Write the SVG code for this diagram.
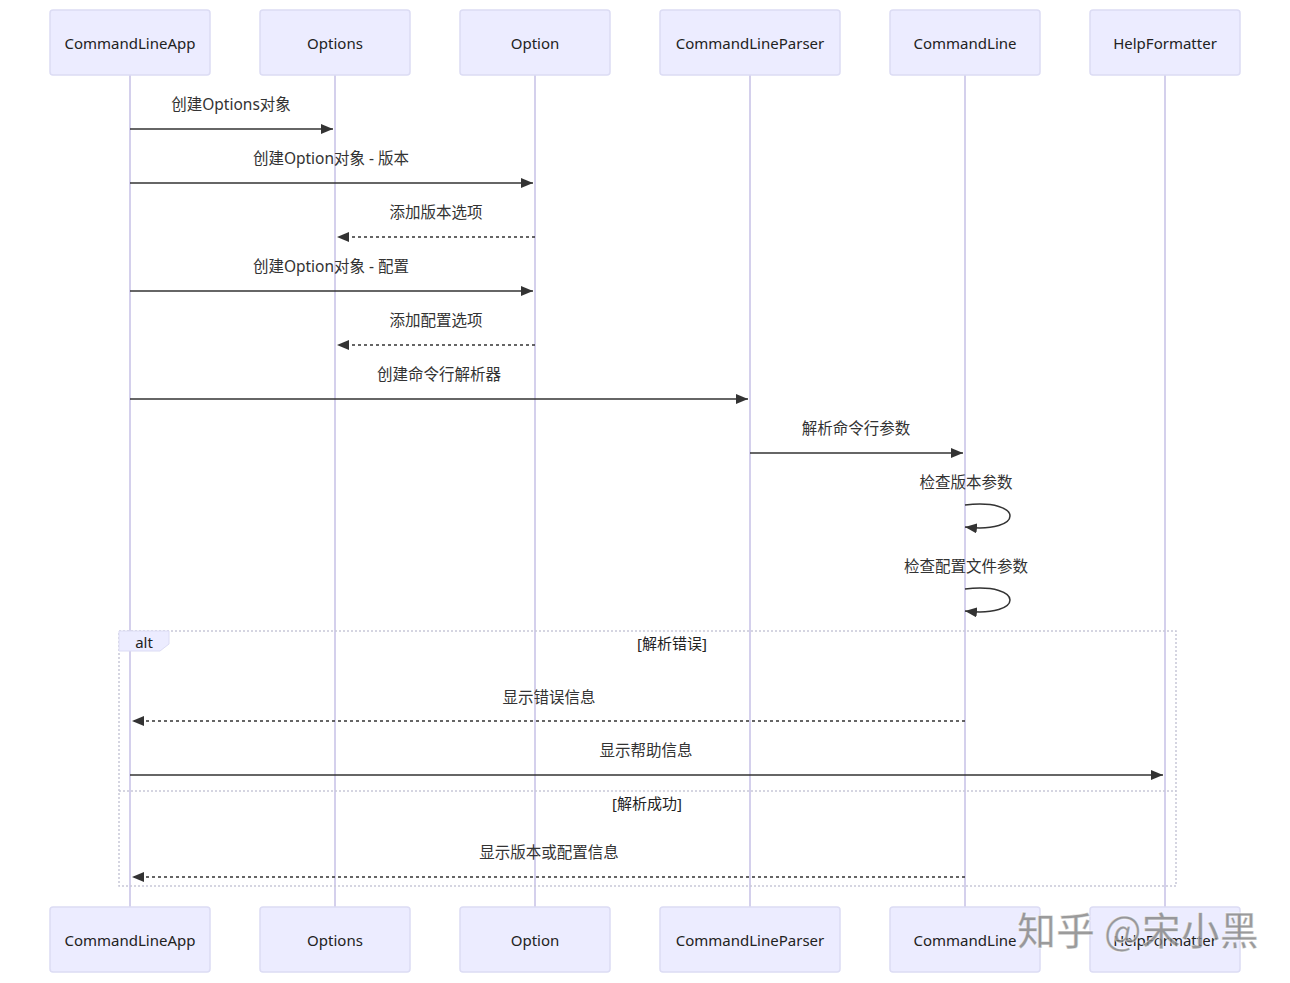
<svg xmlns="http://www.w3.org/2000/svg" width="1290" height="983" viewBox="0 0 1290 983">
<style>
.actor{fill:#ECECFF;stroke:#dcdcf4;stroke-width:1.5}
.atext{font-family:"Noto Sans","Noto Sans CJK SC",sans-serif;font-size:15px;fill:#222;text-anchor:middle;dominant-baseline:central}
.life{stroke:#d4d0ec;stroke-width:2}
.msg{stroke:#333;stroke-width:1.5;fill:none}
.dash{stroke-dasharray:3,3}
.mtext{font-family:"Noto Sans","Noto Sans CJK SC",sans-serif;font-size:15.5px;fill:#333;text-anchor:middle;dominant-baseline:central}
.frame{fill:none;stroke:#c8c8d8;stroke-width:1.5;stroke-dasharray:2,2}
</style>
<defs>
<marker id="ah" viewBox="0 0 12 10" refX="12" refY="5" markerWidth="12" markerHeight="10" markerUnits="userSpaceOnUse" orient="auto">
<path d="M0,0 L12,5 L0,10 Z" fill="#333"/>
</marker>
</defs>
<rect width="1290" height="983" fill="#fff"/>
<g id="lifelines">
<line class="life" x1="130" y1="75" x2="130" y2="907"/>
<line class="life" x1="335" y1="75" x2="335" y2="907"/>
<line class="life" x1="535" y1="75" x2="535" y2="907"/>
<line class="life" x1="750" y1="75" x2="750" y2="907"/>
<line class="life" x1="965" y1="75" x2="965" y2="907"/>
<line class="life" x1="1165" y1="75" x2="1165" y2="907"/>
</g>
<g id="actor-CommandLineApp"><rect class="actor" x="50" y="10" width="160" height="65" rx="3"/><text class="atext" x="130" y="43">CommandLineApp</text><rect class="actor" x="50" y="907" width="160" height="65" rx="3"/><text class="atext" x="130" y="940">CommandLineApp</text></g>
<g id="actor-Options"><rect class="actor" x="260" y="10" width="150" height="65" rx="3"/><text class="atext" x="335" y="43">Options</text><rect class="actor" x="260" y="907" width="150" height="65" rx="3"/><text class="atext" x="335" y="940">Options</text></g>
<g id="actor-Option"><rect class="actor" x="460" y="10" width="150" height="65" rx="3"/><text class="atext" x="535" y="43">Option</text><rect class="actor" x="460" y="907" width="150" height="65" rx="3"/><text class="atext" x="535" y="940">Option</text></g>
<g id="actor-CommandLineParser"><rect class="actor" x="660" y="10" width="180" height="65" rx="3"/><text class="atext" x="750" y="43">CommandLineParser</text><rect class="actor" x="660" y="907" width="180" height="65" rx="3"/><text class="atext" x="750" y="940">CommandLineParser</text></g>
<g id="actor-CommandLine"><rect class="actor" x="890" y="10" width="150" height="65" rx="3"/><text class="atext" x="965" y="43">CommandLine</text><rect class="actor" x="890" y="907" width="150" height="65" rx="3"/><text class="atext" x="965" y="940">CommandLine</text></g>
<g id="actor-HelpFormatter"><rect class="actor" x="1090" y="10" width="150" height="65" rx="3"/><text class="atext" x="1165" y="43">HelpFormatter</text><rect class="actor" x="1090" y="907" width="150" height="65" rx="3"/><text class="atext" x="1165" y="940">HelpFormatter</text></g>
<g id="alt-frame">
<rect class="frame" x="119" y="631" width="1057" height="255"/>
<path d="M119,631 L169,631 L169,644 L160,651 L119,651 Z" fill="#ECECFF" stroke="#dcdcf4" stroke-width="1"/>
<text class="atext" x="144" y="642">alt</text>
<text class="atext" x="672" y="643">[解析错误]</text>
<line class="frame" x1="119" y1="791" x2="1176" y2="791"/>
<text class="atext" x="647" y="803">[解析成功]</text>
</g>
<g id="connectors">
<line class="msg" x1="130" y1="129" x2="333" y2="129" marker-end="url(#ah)"/>
<text class="mtext" x="231" y="104">创建Options对象</text>
<line class="msg" x1="130" y1="183" x2="533" y2="183" marker-end="url(#ah)"/>
<text class="mtext" x="331" y="158">创建Option对象 - 版本</text>
<line class="msg dash" x1="535" y1="237" x2="337" y2="237" marker-end="url(#ah)"/>
<text class="mtext" x="436" y="212">添加版本选项</text>
<line class="msg" x1="130" y1="291" x2="533" y2="291" marker-end="url(#ah)"/>
<text class="mtext" x="331" y="266">创建Option对象 - 配置</text>
<line class="msg dash" x1="535" y1="345" x2="337" y2="345" marker-end="url(#ah)"/>
<text class="mtext" x="436" y="320">添加配置选项</text>
<line class="msg" x1="130" y1="399" x2="748" y2="399" marker-end="url(#ah)"/>
<text class="mtext" x="439" y="374">创建命令行解析器</text>
<line class="msg" x1="750" y1="453" x2="963" y2="453" marker-end="url(#ah)"/>
<text class="mtext" x="856" y="428">解析命令行参数</text>
<text class="mtext" x="966" y="482">检查版本参数</text>
<path class="msg" d="M965,505 C1025,498 1025,534 965,527" marker-end="url(#ah)"/>
<text class="mtext" x="966" y="566">检查配置文件参数</text>
<path class="msg" d="M965,589 C1025,582 1025,618 965,611" marker-end="url(#ah)"/>
<line class="msg dash" x1="965" y1="721" x2="132" y2="721" marker-end="url(#ah)"/>
<text class="mtext" x="549" y="697">显示错误信息</text>
<line class="msg" x1="130" y1="775" x2="1163" y2="775" marker-end="url(#ah)"/>
<text class="mtext" x="646" y="750">显示帮助信息</text>
<line class="msg dash" x1="965" y1="877" x2="132" y2="877" marker-end="url(#ah)"/>
<text class="mtext" x="549" y="852">显示版本或配置信息</text>
</g>
<text x="1017" y="945" font-family="Noto Sans CJK SC,sans-serif" font-size="39" font-weight="500" fill="#808080" fill-opacity="0.8" stroke="#fff" stroke-width="1" stroke-opacity="0.6">知乎 @宋小黑</text>
</svg>
